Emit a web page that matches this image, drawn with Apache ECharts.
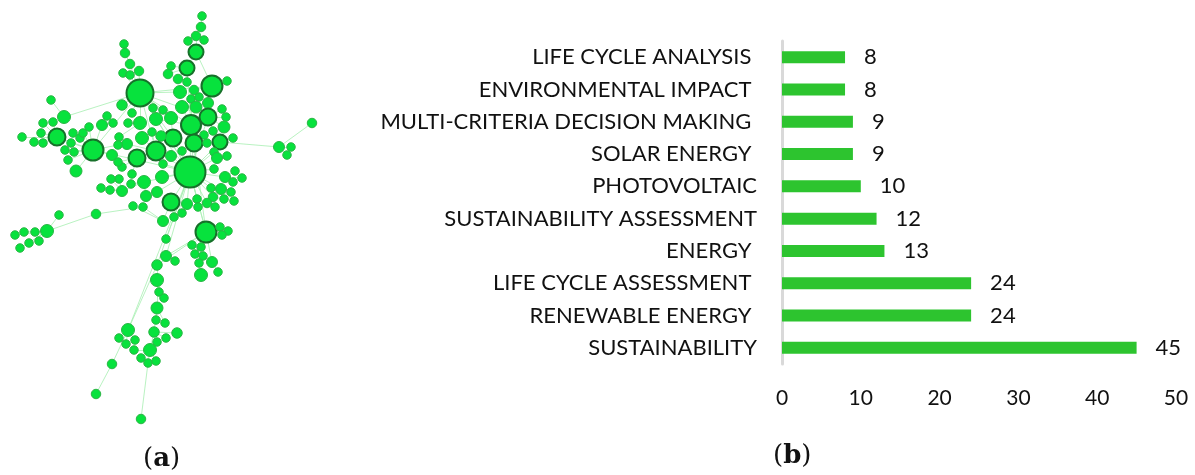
<!DOCTYPE html>
<html>
<head>
<meta charset="utf-8">
<script src="https://cdn.jsdelivr.net/npm/echarts@6/dist/echarts.min.js"></script>
<style>
  html, body { margin: 0; padding: 0; background: #fff; }
  #chart { width: 1195px; height: 475px; }
</style>
</head>
<body>
<div id="chart"></div>
<script>
// (b) keyword frequency, top to bottom
const keywords = [
  'LIFE CYCLE ANALYSIS ',
  'ENVIRONMENTAL IMPACT ',
  'MULTI-CRITERIA DECISION MAKING ',
  'SOLAR ENERGY ',
  'PHOTOVOLTAIC',
  'SUSTAINABILITY ASSESSMENT',
  'ENERGY ',
  'LIFE CYCLE ASSESSMENT ',
  'RENEWABLE ENERGY ',
  'SUSTAINABILITY'
]
const counts = [8, 8, 9, 9, 10, 12, 13, 24, 24, 45]
const xTicks = [0, 10, 20, 30, 40, 50]

// (a) co-occurrence network: x, y, weight, parent node (-1 = root)
const nodes = [
  [202, 16, 7, 1], [201, 27, 8, 2], [196, 36, 8, 5], [188, 41, 7, 5], [204, 40, 7, 5],
  [196, 52, 14, 11], [187, 68, 14, 23], [171, 66, 7, 6], [168, 74, 8, 6], [178, 79, 8, 6],
  [187, 82, 7, 6], [212, 86, 20, 79], [227, 81, 7, 11], [180, 92, 12, 43], [194, 90, 8, 11],
  [191, 99, 7, 23], [199, 97, 7, 11], [208, 103, 10, 11], [182, 107, 12, 23], [196, 107, 11, 23],
  [222, 109, 7, 22], [226, 117, 7, 22], [208, 117, 16, 79], [191, 125, 19, 79], [171, 118, 12, 43],
  [224, 127, 11, 22], [213, 131, 7, 22], [204, 135, 7, 23], [173, 138, 16, 79], [194, 143, 16, 79],
  [220, 142, 14, 79], [233, 138, 7, 30], [207, 143, 7, 30], [312, 123, 8, 34], [279, 147, 10, 30],
  [291, 147, 7, 34], [287, 155, 7, 34],
  [124, 44, 7, 38], [125, 53, 8, 39], [130, 64, 8, 43], [123, 73, 7, 43], [130, 75, 7, 43],
  [139, 71, 8, 43], [140, 93, 26, 79], [122, 105, 9, 43], [51, 100, 7, 46], [64, 117, 12, 43],
  [107, 116, 7, 48], [102, 125, 10, 68], [89, 127, 7, 68], [113, 123, 7, 48], [132, 113, 7, 43],
  [128, 123, 7, 53], [140, 123, 12, 43], [153, 108, 7, 43], [163, 110, 7, 43], [156, 119, 12, 79],
  [43, 123, 7, 60], [53, 122, 7, 60], [41, 133, 7, 60], [57, 137, 16, 68], [22, 137, 7, 60],
  [34, 142, 7, 60], [43, 143, 7, 60], [73, 133, 7, 68], [80, 138, 7, 68], [71, 143, 7, 68],
  [83, 133, 7, 68], [93, 150, 20, 43], [119, 137, 7, 53], [127, 144, 10, 75], [118, 145, 7, 68],
  [142, 138, 12, 75], [152, 132, 7, 75], [161, 136, 9, 79], [156, 151, 18, 79], [137, 158, 16, 75],
  [112, 155, 10, 68], [171, 156, 10, 79], [190, 172, 30, -1], [163, 164, 7, 79], [182, 151, 7, 79],
  [214, 152, 7, 79], [217, 158, 10, 79], [227, 156, 7, 83], [214, 169, 7, 79], [225, 177, 10, 79],
  [235, 171, 7, 86], [233, 182, 7, 86], [242, 178, 7, 86], [211, 188, 7, 79], [221, 189, 10, 79],
  [231, 192, 7, 91], [213, 197, 8, 79], [224, 199, 7, 93], [234, 201, 7, 91], [207, 203, 8, 79],
  [215, 207, 7, 96], [197, 199, 7, 79], [187, 204, 10, 79], [198, 207, 7, 99], [171, 202, 16, 79],
  [174, 217, 7, 101], [182, 213, 7, 101], [163, 221, 10, 101], [206, 232, 20, 79], [220, 227, 7, 105],
  [228, 231, 7, 105], [222, 235, 7, 105], [192, 245, 7, 105], [201, 247, 7, 105], [195, 254, 7, 105],
  [203, 256, 7, 105], [199, 263, 7, 116], [212, 262, 10, 105], [218, 272, 7, 114], [201, 275, 12, 105],
  [65, 150, 7, 68], [74, 152, 7, 68], [68, 160, 7, 68], [76, 171, 11, 68], [122, 167, 7, 76],
  [118, 162, 7, 76], [132, 174, 7, 76], [144, 182, 12, 79], [162, 177, 12, 79], [146, 196, 10, 124],
  [157, 192, 10, 79], [119, 179, 7, 132], [111, 179, 7, 132], [101, 188, 7, 132], [110, 190, 7, 132],
  [122, 191, 10, 124], [131, 184, 7, 124], [133, 206, 7, 104], [143, 207, 7, 104], [96, 214, 8, 135],
  [59, 215, 7, 138], [47, 231, 12, 136], [35, 232, 7, 138], [24, 232, 7, 138], [15, 235, 7, 138],
  [29, 243, 7, 138], [39, 241, 7, 138], [20, 248, 7, 138],
  [166, 239, 7, 79], [166, 256, 10, 79], [175, 261, 7, 146], [157, 265, 9, 79], [157, 280, 12, 148],
  [159, 292, 7, 149], [164, 298, 7, 149], [157, 308, 11, 149], [156, 320, 7, 152], [165, 323, 7, 152],
  [154, 332, 9, 152], [177, 333, 9, 155], [166, 338, 7, 155], [157, 342, 7, 164], [128, 330, 12, 79],
  [119, 338, 7, 159], [126, 344, 7, 159], [135, 340, 7, 159], [134, 350, 7, 164], [150, 350, 12, 155],
  [141, 358, 7, 164], [148, 363, 7, 164], [156, 361, 7, 164], [112, 364, 8, 159], [96, 394, 8, 168],
  [141, 419, 8, 166]
]
const extraLinks = [
  [43, 23], [43, 22], [43, 11], [68, 79], [75, 43], [28, 43], [11, 22], [5, 6],
  [148, 105], [146, 105], [79, 105], [56, 23], [24, 28], [29, 105], [148, 159]
]

const graphData = nodes.map((n, i) => ({
  name: 'n' + i,
  x: n[0],
  y: n[1],
  symbolSize: n[2] < 10 ? n[2] + 1.5 : n[2] + 1,
  itemStyle: n[2] >= 14
    ? { color: '#07e23d', borderColor: '#17702a', borderWidth: 2 }
    : { color: '#07e23d', borderColor: '#2bb545', borderWidth: 1 }
}))

const graphLinks = []
nodes.forEach((n, i) => {
  if (n[3] >= 0) graphLinks.push({ source: 'n' + i, target: 'n' + n[3] })
})
extraLinks.forEach(l => graphLinks.push({ source: 'n' + l[0], target: 'n' + l[1] }))

const chart = echarts.init(document.getElementById('chart'))

chart.setOption({
  animation: false,
  backgroundColor: '#fff',
  textStyle: { fontFamily: 'Lato' },
  grid: { left: 782, right: 19, top: 41, bottom: 111, containLabel: false },
  xAxis: {
    type: 'value',
    min: 0,
    max: 50,
    interval: 10,
    axisLine: { show: false },
    axisTick: { show: false },
    splitLine: { show: false },
    axisLabel: {
      margin: 24,
      fontSize: 21,
      color: '#111',
      fontFamily: 'Lato',
      formatter: v => xTicks.includes(v) ? String(v) : ''
    }
  },
  yAxis: {
    type: 'category',
    inverse: true,
    data: keywords,
    axisLine: { show: true, lineStyle: { color: '#d9d9d9', width: 3 } },
    axisTick: { show: false },
    axisLabel: { margin: 25, fontSize: 22, color: '#111', fontFamily: 'Lato' }
  },
  series: [
    {
      type: 'bar',
      data: counts,
      barWidth: 12,
      itemStyle: { color: '#2dc42f' },
      label: {
        show: true,
        position: 'right',
        distance: 19,
        fontSize: 22,
        color: '#111',
        fontFamily: 'Lato'
      }
    },
    {
      type: 'graph',
      layout: 'none',
      left: 15,
      top: 16,
      width: 297,
      height: 403,
      roam: false,
      silent: true,
      data: graphData,
      links: graphLinks,
      label: { show: false },
      lineStyle: { color: '#a8efb2', width: 1, opacity: 0.8, curveness: 0 },
      z: 3
    }
  ],
  graphic: [
    {
      type: 'text',
      left: 143,
      top: 446,
      style: {
        text: '({a|a})',
        font: '26px "DejaVu Serif"',
        fill: '#111',
        rich: { a: { fontWeight: 'bold', fontSize: 26, fontFamily: 'DejaVu Serif' } }
      }
    },
    {
      type: 'text',
      left: 773,
      top: 443,
      style: {
        text: '({a|b})',
        font: '26px "DejaVu Serif"',
        fill: '#111',
        rich: { a: { fontWeight: 'bold', fontSize: 26, fontFamily: 'DejaVu Serif' } }
      }
    }
  ]
})
</script>
</body>
</html>
